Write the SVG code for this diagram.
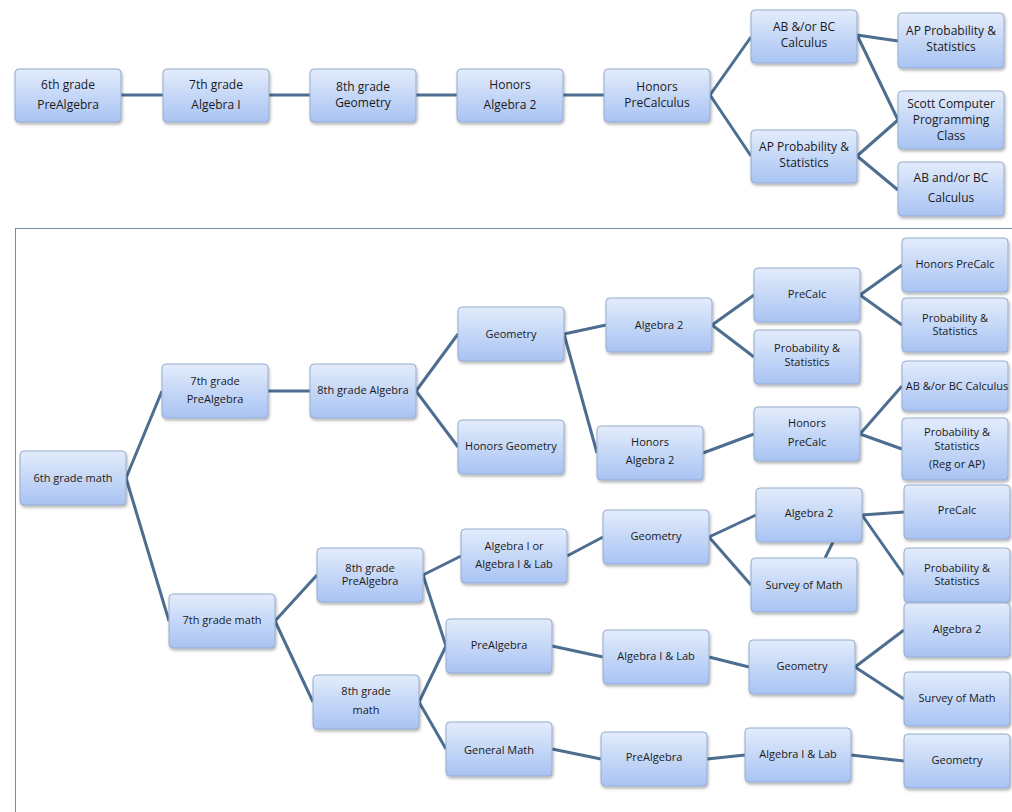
<svg xmlns="http://www.w3.org/2000/svg" width="1012" height="812" viewBox="0 0 1012 812">
<defs>
<linearGradient id="g" x1="0" y1="0" x2="0" y2="1"><stop offset="0" stop-color="#e3ecfb"/><stop offset="1" stop-color="#a8c3f3"/></linearGradient>
<filter id="sh" x="-10%" y="-10%" width="130%" height="140%"><feDropShadow dx="1" dy="2" stdDeviation="1.5" flood-color="#000" flood-opacity="0.3"/></filter>
<style>
.n rect{fill:url(#g);stroke:#95acd0;stroke-width:1;filter:url(#sh)}
.n text{font-family:"Open Sans","Liberation Sans",sans-serif;font-size:12px;fill:#1a1a1a;text-anchor:middle}
.b text{font-size:11px}
.c line{stroke:#4d6e90;stroke-width:3}
</style>
</defs>
<rect width="1012" height="812" fill="#fff"/>
<rect x="15.5" y="228.5" width="1000" height="590" fill="none" stroke="#6d8db0"/>
<g class="c">
<line x1="121" y1="95" x2="163" y2="95"/><line x1="269" y1="95" x2="310" y2="95"/><line x1="416" y1="95" x2="457" y2="95"/><line x1="563" y1="95" x2="604" y2="95"/>
<line x1="710" y1="95" x2="751" y2="37"/><line x1="710" y1="95" x2="751" y2="156"/>
<line x1="857" y1="35" x2="898" y2="41"/><line x1="857" y1="35" x2="898" y2="120"/>
<line x1="857" y1="156" x2="898" y2="120"/><line x1="857" y1="156" x2="898" y2="190"/>
<line x1="126" y1="478" x2="162" y2="391"/><line x1="126" y1="478" x2="169" y2="621"/>
<line x1="268" y1="391" x2="310" y2="391"/>
<line x1="416" y1="391" x2="458" y2="334"/><line x1="416" y1="391" x2="458" y2="447"/>
<line x1="564" y1="334" x2="606" y2="325"/><line x1="564" y1="334" x2="597" y2="453"/>
<line x1="712" y1="325" x2="754" y2="295"/><line x1="712" y1="325" x2="754" y2="357"/>
<line x1="860" y1="295" x2="902" y2="265"/><line x1="860" y1="295" x2="902" y2="325"/>
<line x1="703" y1="453" x2="754" y2="434"/>
<line x1="860" y1="434" x2="902" y2="386"/><line x1="860" y1="434" x2="902" y2="449"/>
<line x1="275" y1="621" x2="317" y2="575"/><line x1="275" y1="621" x2="313" y2="702"/>
<line x1="423" y1="575" x2="461" y2="556"/><line x1="423" y1="575" x2="446" y2="646"/>
<line x1="567" y1="556" x2="603" y2="537"/>
<line x1="709" y1="537" x2="756" y2="515"/><line x1="709" y1="537" x2="751" y2="585"/>
<line x1="825" y1="558" x2="833" y2="542"/>
<line x1="862" y1="515" x2="904" y2="512"/><line x1="862" y1="515" x2="904" y2="575"/>
<line x1="419" y1="702" x2="446" y2="646"/><line x1="419" y1="702" x2="446" y2="749"/>
<line x1="552" y1="646" x2="603" y2="657"/>
<line x1="709" y1="657" x2="749" y2="667"/>
<line x1="855" y1="667" x2="904" y2="630"/><line x1="855" y1="667" x2="904" y2="699"/>
<line x1="552" y1="749" x2="601" y2="759"/><line x1="707" y1="759" x2="745" y2="755"/><line x1="851" y1="755" x2="904" y2="761"/>
</g>
<g id="t1" class="n"><rect x="15" y="69" width="106" height="53" rx="4"/><text x="68" y="89">6th grade</text><text x="68" y="109">PreAlgebra</text></g>
<g id="t2" class="n"><rect x="163" y="69" width="106" height="53" rx="4"/><text x="216" y="89">7th grade</text><text x="216" y="109">Algebra I</text></g>
<g id="t3" class="n"><rect x="310" y="69" width="106" height="53" rx="4"/><text x="363" y="91">8th grade</text><text x="363" y="107">Geometry</text></g>
<g id="t4" class="n"><rect x="457" y="69" width="106" height="53" rx="4"/><text x="510" y="89">Honors</text><text x="510" y="109">Algebra 2</text></g>
<g id="t5" class="n"><rect x="604" y="69" width="106" height="53" rx="4"/><text x="657" y="91">Honors</text><text x="657" y="107">PreCalculus</text></g>
<g id="t6" class="n"><rect x="751" y="10" width="106" height="53" rx="4"/><text x="804" y="31">AB &amp;/or BC</text><text x="804" y="47">Calculus</text></g>
<g id="t7" class="n"><rect x="751" y="130" width="106" height="53" rx="4"/><text x="804" y="151">AP Probability &amp;</text><text x="804" y="167">Statistics</text></g>
<g id="t8" class="n"><rect x="898" y="13" width="106" height="55" rx="4"/><text x="951" y="35">AP Probability &amp;</text><text x="951" y="51">Statistics</text></g>
<g id="t9" class="n"><rect x="898" y="91" width="106" height="58" rx="4"/><text x="951" y="108">Scott Computer</text><text x="951" y="124">Programming</text><text x="951" y="140">Class</text></g>
<g id="t10" class="n"><rect x="898" y="162" width="106" height="54" rx="4"/><text x="951" y="182">AB and/or BC</text><text x="951" y="202">Calculus</text></g>
<g id="b1" class="n b"><rect x="20" y="451" width="106" height="54" rx="4"/><text x="73" y="482">6th grade math</text></g>
<g id="b2" class="n b"><rect x="162" y="364" width="106" height="54" rx="4"/><text x="215" y="385">7th grade</text><text x="215" y="403">PreAlgebra</text></g>
<g id="b3" class="n b"><rect x="169" y="594" width="106" height="54" rx="4"/><text x="222" y="624">7th grade math</text></g>
<g id="b4" class="n b"><rect x="310" y="364" width="106" height="54" rx="4"/><text x="363" y="394">8th grade Algebra</text></g>
<g id="b5" class="n b"><rect x="458" y="307" width="106" height="54" rx="4"/><text x="511" y="338">Geometry</text></g>
<g id="b6" class="n b"><rect x="458" y="420" width="106" height="54" rx="4"/><text x="511" y="450">Honors Geometry</text></g>
<g id="b7" class="n b"><rect x="606" y="298" width="106" height="54" rx="4"/><text x="659" y="329">Algebra 2</text></g>
<g id="b8" class="n b"><rect x="597" y="426" width="106" height="54" rx="4"/><text x="650" y="446">Honors</text><text x="650" y="464">Algebra 2</text></g>
<g id="b9" class="n b"><rect x="754" y="268" width="106" height="54" rx="4"/><text x="807" y="298">PreCalc</text></g>
<g id="b10" class="n b"><rect x="754" y="330" width="106" height="54" rx="4"/><text x="807" y="352">Probability &amp;</text><text x="807" y="366">Statistics</text></g>
<g id="b11" class="n b"><rect x="754" y="407" width="106" height="54" rx="4"/><text x="807" y="427">Honors</text><text x="807" y="446">PreCalc</text></g>
<g id="b12" class="n b"><rect x="902" y="238" width="106" height="54" rx="4"/><text x="955" y="268">Honors PreCalc</text></g>
<g id="b13" class="n b"><rect x="902" y="298" width="106" height="54" rx="4"/><text x="955" y="322">Probability &amp;</text><text x="955" y="335">Statistics</text></g>
<g id="b14" class="n b"><rect x="902" y="361" width="106" height="50" rx="4"/><text x="957" y="390">AB &amp;/or BC Calculus</text></g>
<g id="b15" class="n b"><rect x="902" y="418" width="106" height="62" rx="4"/><text x="957" y="436">Probability &amp;</text><text x="957" y="450">Statistics</text><text x="957" y="468">(Reg or AP)</text></g>
<g id="b16" class="n b"><rect x="461" y="529" width="106" height="54" rx="4"/><text x="514" y="550">Algebra I or</text><text x="514" y="568">Algebra I &amp; Lab</text></g>
<g id="b17" class="n b"><rect x="603" y="510" width="106" height="54" rx="4"/><text x="656" y="540">Geometry</text></g>
<g id="b18" class="n b"><rect x="756" y="488" width="106" height="54" rx="4"/><text x="809" y="517">Algebra 2</text></g>
<g id="b19" class="n b"><rect x="751" y="558" width="106" height="54" rx="4"/><text x="804" y="589">Survey of Math</text></g>
<g id="b20" class="n b"><rect x="904" y="485" width="106" height="54" rx="4"/><text x="957" y="514">PreCalc</text></g>
<g id="b21" class="n b"><rect x="904" y="548" width="106" height="54" rx="4"/><text x="957" y="572">Probability &amp;</text><text x="957" y="585">Statistics</text></g>
<g id="b22" class="n b"><rect x="317" y="548" width="106" height="54" rx="4"/><text x="370" y="572">8th grade</text><text x="370" y="585">PreAlgebra</text></g>
<g id="b23" class="n b"><rect x="313" y="675" width="106" height="54" rx="4"/><text x="366" y="695">8th grade</text><text x="366" y="714">math</text></g>
<g id="b24" class="n b"><rect x="446" y="619" width="106" height="54" rx="4"/><text x="499" y="649">PreAlgebra</text></g>
<g id="b25" class="n b"><rect x="603" y="630" width="106" height="54" rx="4"/><text x="656" y="660">Algebra I &amp; Lab</text></g>
<g id="b26" class="n b"><rect x="749" y="640" width="106" height="54" rx="4"/><text x="802" y="670">Geometry</text></g>
<g id="b27" class="n b"><rect x="904" y="603" width="106" height="54" rx="4"/><text x="957" y="633">Algebra 2</text></g>
<g id="b28" class="n b"><rect x="904" y="672" width="106" height="54" rx="4"/><text x="957" y="702">Survey of Math</text></g>
<g id="b29" class="n b"><rect x="446" y="722" width="106" height="54" rx="4"/><text x="499" y="754">General Math</text></g>
<g id="b30" class="n b"><rect x="601" y="732" width="106" height="54" rx="4"/><text x="654" y="761">PreAlgebra</text></g>
<g id="b31" class="n b"><rect x="745" y="728" width="106" height="54" rx="4"/><text x="798" y="758">Algebra I &amp; Lab</text></g>
<g id="b32" class="n b"><rect x="904" y="734" width="106" height="54" rx="4"/><text x="957" y="764">Geometry</text></g>
</svg>
